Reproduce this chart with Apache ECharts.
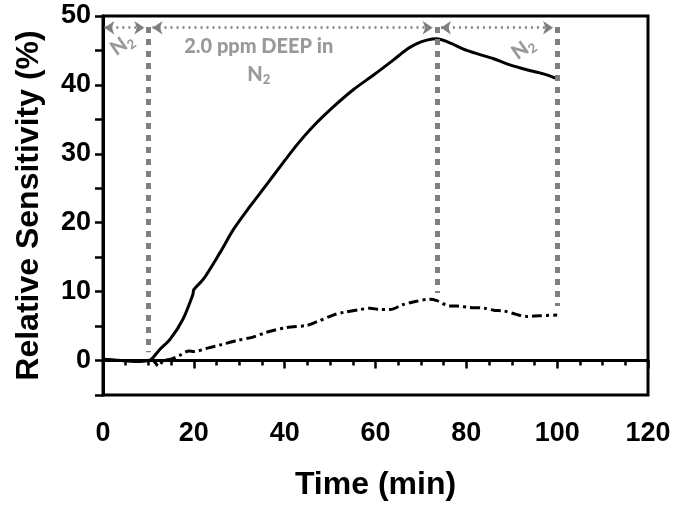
<!DOCTYPE html>
<html>
<head>
<meta charset="utf-8">
<script src="https://cdn.jsdelivr.net/npm/echarts@6/dist/echarts.min.js"></script>
<style>
  html, body { margin: 0; padding: 0; background: #fff; }
  #chart { width: 675px; height: 506px; }
</style>
</head>
<body>
<div id="chart"></div>
<script>
// solid curve (time, %)
const solidX = [0, 2, 4, 6, 8, 10, 10.7, 12.5, 14.8, 17.6, 19.8, 20, 22.1, 25.8, 28.7, 32.4, 36.1, 39.3, 42.7, 46.3, 50.7, 55.1, 59.5, 63.9, 67, 69.1, 71.3, 73.5, 76, 80.1, 84.5, 86, 89.6, 93.3, 97, 100];
const solidY = [0.2, 0.1, 0.0, -0.1, -0.15, 0.0, 0.2, 1.6, 3.1, 6.0, 9.6, 10.3, 11.8, 15.7, 19.0, 22.4, 25.6, 28.4, 31.3, 34.0, 36.8, 39.3, 41.4, 43.6, 45.2, 46.0, 46.5, 46.7, 46.2, 45.0, 44.1, 43.8, 42.9, 42.2, 41.6, 40.9];

// dash-dot curve
const dashX = [10.5, 11.5, 12.2, 13.3, 15, 17, 19, 20, 23, 26, 29.4, 33, 36, 40.5, 44.9, 47, 50.7, 53, 56.6, 58.8, 61, 63.2, 66, 68.3, 72, 73.5, 76.4, 78, 80.8, 84, 86, 88.2, 91, 93.3, 96, 100];
const dashY = [0.3, -0.3, -0.8, 0.0, 0.2, 0.8, 1.4, 1.3, 1.8, 2.3, 2.9, 3.4, 4.1, 4.8, 5.1, 5.6, 6.6, 7.0, 7.4, 7.6, 7.4, 7.4, 8.1, 8.5, 8.9, 8.7, 7.9, 7.9, 7.7, 7.6, 7.3, 7.2, 6.7, 6.4, 6.5, 6.6];

// gas phases: boundaries in min, and where each dotted divider stops
const phaseEdges = [0, 10, 73.5, 100];
const dividerTop = 48.4;
const dividerBottom = [1.2, 9.8, 7.9];
const arrowY = 48.3;

const gray = '#7f7f7f';
const numFont = '"Liberation Sans", Arial, sans-serif';
const noteFont = 'Lato, "Open Sans", sans-serif';

const chart = echarts.init(document.getElementById('chart'));

const toPairs = (xs, ys) => xs.map((x, i) => [x, ys[i]]);

// arrows between phase edges
const arrowLines = [];
for (let i = 0; i < phaseEdges.length - 1; i++) {
  const a = phaseEdges[i] + (i === 0 ? 0.3 : 0.9);
  const b = phaseEdges[i + 1] - 0.9;
  arrowLines.push([{ coord: [a, arrowY] }, { coord: [b, arrowY] }]);
}
// vertical dotted dividers
const dividers = phaseEdges.slice(1).map((x, i) => [
  { coord: [x, dividerTop] }, { coord: [x, dividerBottom[i]] }
]);

const richN2 = {
  n: { fontFamily: noteFont, fontWeight: 900, fontSize: 20, color: gray, lineHeight: 24 },
  s: { fontFamily: noteFont, fontWeight: 900, fontSize: 13, color: gray, lineHeight: 13, verticalAlign: 'bottom' },
  t: { fontFamily: noteFont, fontWeight: 900, fontSize: 20, color: gray, lineHeight: 28 }
};

const notes = [
  { value: [4.2, 45.9], text: '{n|N}{s|2}', rotate: 35 },
  { value: [34.3, 45.6], text: '{t|2.0 ppm DEEP in}', rotate: 0 },
  { value: [34.3, 41.5], text: '{n|N}{s|2}', rotate: 0 },
  { value: [92.5, 45.3], text: '{n|N}{s|2}', rotate: 35 }
];

const option = {
  animation: false,
  grid: {
    left: 103, right: 27, top: 16, bottom: 110,
    show: true, borderColor: '#000', borderWidth: 3
  },
  xAxis: {
    type: 'value', min: 0, max: 120, interval: 20,
    name: 'Time (min)', nameLocation: 'middle', nameGap: 74,
    nameTextStyle: { fontFamily: numFont, fontWeight: 'bold', fontSize: 32, color: '#000' },
    axisLine: { lineStyle: { color: '#000', width: 3 } },
    axisTick: { inside: false, length: 8, lineStyle: { color: '#000', width: 2.5 } },
    minorTick: { show: true, splitNumber: 4, length: 5, lineStyle: { color: '#000', width: 2.5 } },
    axisLabel: { fontFamily: numFont, fontWeight: 'bold', fontSize: 27, color: '#000', margin: 25 },
    splitLine: { show: false }
  },
  yAxis: {
    type: 'value', min: -5, max: 50, interval: 5,
    name: 'Relative Sensitivity (%)', nameLocation: 'middle', nameGap: 58,
    nameTextStyle: { fontFamily: numFont, fontWeight: 'bold', fontSize: 32, color: '#000' },
    axisLine: { lineStyle: { color: '#000', width: 3 } },
    axisTick: { inside: false, length: 8, lineStyle: { color: '#000', width: 2.5 } },
    axisLabel: {
      fontFamily: numFont, fontWeight: 'bold', fontSize: 27, color: '#000', margin: 12,
      formatter: v => (v >= 0 && v % 10 === 0 ? String(v) : '')
    },
    splitLine: { show: false }
  },
  series: [
    {
      name: 'solid', type: 'line', data: toPairs(solidX, solidY),
      showSymbol: false, smooth: 0.3,
      lineStyle: { color: '#000', width: 3 },
      markLine: {
        silent: true, symbol: ['none', 'none'], label: { show: false },
        lineStyle: { color: gray, width: 5, type: [6, 6] },
        data: dividers
      }
    },
    {
      name: 'dashdot', type: 'line', data: toPairs(dashX, dashY),
      showSymbol: false, smooth: 0.3,
      lineStyle: { color: '#000', width: 3, type: [10, 4, 3, 4] },
      markLine: {
        silent: true, symbol: ['arrow', 'arrow'], symbolSize: 10, label: { show: false },
        lineStyle: { color: gray, width: 2.5, type: [2, 4] },
        itemStyle: { color: gray },
        data: arrowLines
      }
    },
    {
      name: 'notes', type: 'scatter', symbolSize: 1, silent: true,
      itemStyle: { color: 'rgba(0,0,0,0)' },
      data: notes.map(d => ({
        value: d.value,
        label: { show: true, position: 'inside', rotate: d.rotate, formatter: d.text, rich: richN2 }
      }))
    }
  ]
};

chart.setOption(option);
</script>
</body>
</html>
